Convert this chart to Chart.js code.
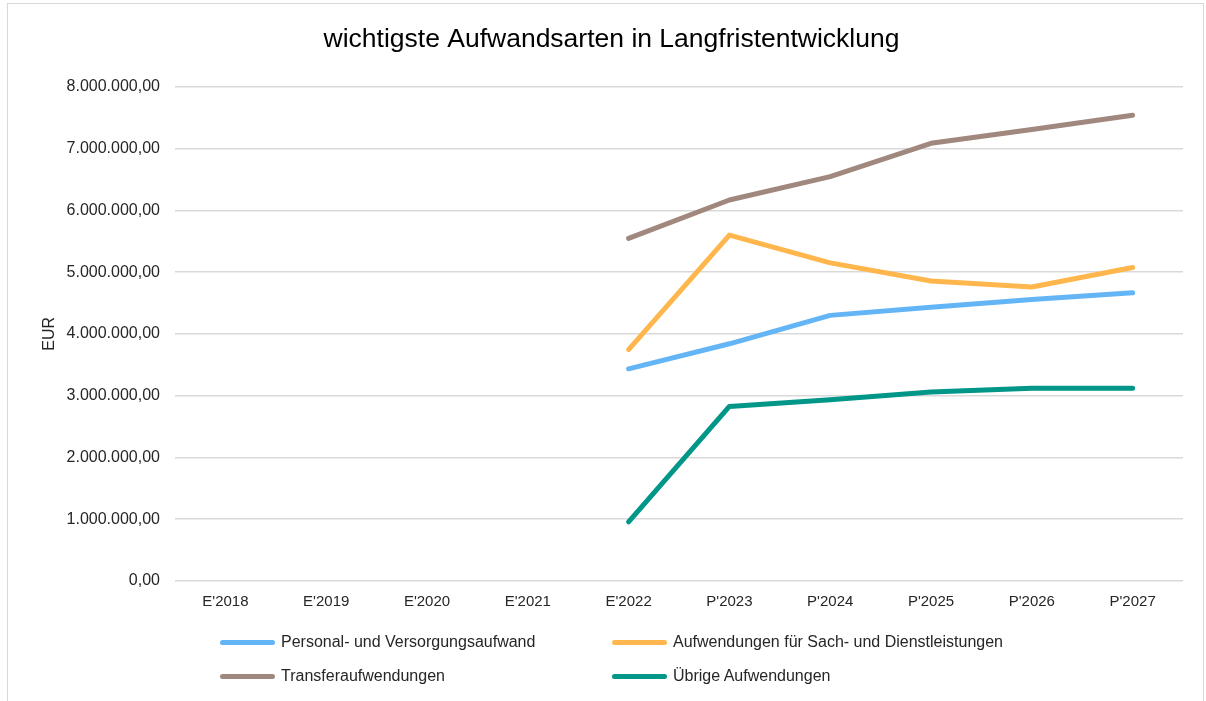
<!DOCTYPE html>
<html>
<head>
<meta charset="utf-8">
<script src="https://cdn.jsdelivr.net/npm/chart.js@4.4.1/dist/chart.umd.min.js"></script>
<style>
  html, body { margin: 0; padding: 0; background: #fff; }
  body { width: 1206px; height: 701px; position: relative; overflow: hidden; font-family: "Liberation Sans", Arial, sans-serif; }
  #frame { position: absolute; left: 7px; top: 3px; width: 1197px; height: 720px; border: 1px solid #d9d9d9; box-sizing: border-box; }
  #wrap { position: absolute; left: 0; top: 0; width: 1206px; height: 701px; }
  .leg { position: absolute; font-size: 16px; color: #262626; line-height: 18px; white-space: nowrap; }
  .leg .sw { position: absolute; left: 0; top: 7px; width: 55px; height: 5px; border-radius: 3px; }
  .leg .tx { position: absolute; left: 61px; top: 0; }
</style>
</head>
<body>
<div id="frame"></div>
<div id="wrap"><canvas id="c" width="1206" height="701"></canvas></div>
<div id="legend"></div>
<script>
const categories = ["E'2018", "E'2019", "E'2020", "E'2021", "E'2022", "P'2023", "P'2024", "P'2025", "P'2026", "P'2027"];
const seriesNames = ["Personal- und Versorgungsaufwand", "Aufwendungen für Sach- und Dienstleistungen", "Transferaufwendungen", "Übrige Aufwendungen"];
const personal   = [null, null, null, null, 3435000, 3840000, 4300000, 4430000, 4555000, 4665000];
const sach       = [null, null, null, null, 3745000, 5600000, 5150000, 4855000, 4760000, 5075000];
const transfer   = [null, null, null, null, 5545000, 6168000, 6546000, 7086000, 7310000, 7540000];
const uebrige    = [null, null, null, null,  957000, 2826000, 2934000, 3058000, 3120000, 3120000];
const seriesColors = ["#64B5F6", "#FFB74D", "#A1887F", "#009688"];
const yTicks = [0, 1000000, 2000000, 3000000, 4000000, 5000000, 6000000, 7000000, 8000000];

function fmtDE(v) {
  const parts = Math.abs(v).toFixed(2).split(".");
  const intPart = parts[0].replace(/\B(?=(\d{3})+(?!\d))/g, ".");
  return (v < 0 ? "-" : "") + intPart + "," + parts[1];
}

const seriesData = [personal, sach, transfer, uebrige];
const datasets = seriesData.map((d, i) => ({
  label: seriesNames[i],
  data: d,
  borderColor: seriesColors[i],
  backgroundColor: seriesColors[i],
  borderWidth: 5,
  pointRadius: 0,
  pointHoverRadius: 0,
  tension: 0,
  borderCapStyle: "round",
  borderJoinStyle: "round",
  fill: false,
  spanGaps: false
}));

const FONT = "'Liberation Sans', Arial, sans-serif";

new Chart(document.getElementById("c"), {
  type: "line",
  data: { labels: categories, datasets: datasets },
  options: {
    responsive: false,
    animation: false,
    devicePixelRatio: 1,
    layout: { padding: { top: 22, left: 40, right: 23, bottom: 78 } },
    plugins: {
      legend: { display: false },
      tooltip: { enabled: false },
      title: {
        display: true,
        text: "wichtigste Aufwandsarten in Langfristentwicklung",
        color: "#000",
        font: { family: FONT, size: 26.5, weight: "normal" },
        padding: { top: 2, bottom: 31 }
      }
    },
    scales: {
      x: {
        offset: true,
        grid: { display: false, drawTicks: false },
        border: { display: false },
        ticks: { color: "#262626", font: { family: FONT, size: 15 }, padding: 12, maxRotation: 0 }
      },
      y: {
        min: 0,
        max: 8000000,
        afterBuildTicks: (scale) => { scale.ticks = yTicks.map(v => ({ value: v })); },
        afterFit: (scale) => { scale.width = 135; },
        grid: { color: "#d9d9d9", lineWidth: 1.5, drawTicks: false },
        border: { display: false },
        ticks: { color: "#262626", font: { family: FONT, size: 16 }, padding: 15, callback: (v) => fmtDE(v) },
        title: { display: true, text: "EUR", color: "#262626", font: { family: FONT, size: 16 }, padding: { top: 0, bottom: 0 } }
      }
    }
  }
});

// HTML legend built from the series arrays
const legendPos = [[220, 633], [612, 633], [220, 667], [612, 667]];
const legend = document.getElementById("legend");
seriesNames.forEach((name, i) => {
  const el = document.createElement("div");
  el.className = "leg";
  el.style.left = legendPos[i][0] + "px";
  el.style.top = legendPos[i][1] + "px";
  el.innerHTML = '<span class="sw" style="background:' + seriesColors[i] + '"></span><span class="tx"></span>';
  el.querySelector(".tx").textContent = name;
  legend.appendChild(el);
});
</script>
</body>
</html>
